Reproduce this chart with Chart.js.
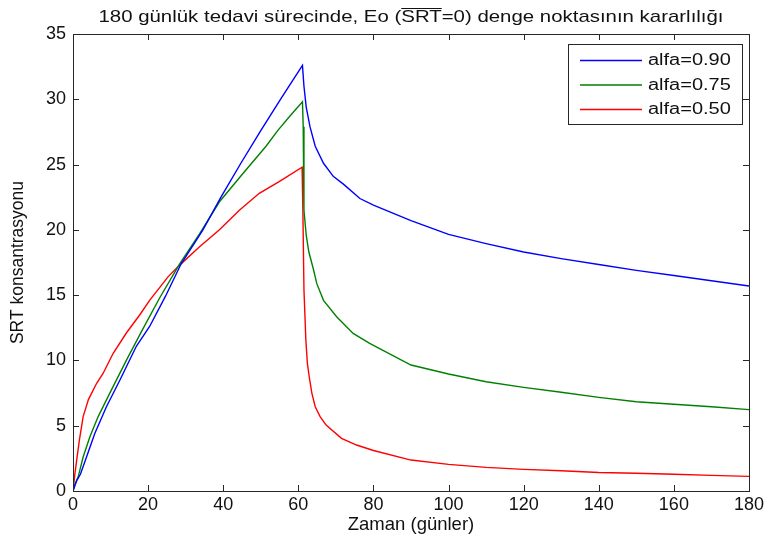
<!DOCTYPE html>
<html>
<head>
<meta charset="utf-8">
<script src="https://cdn.jsdelivr.net/npm/chart.js@4/dist/chart.umd.min.js"></script>
<style>
  html, body { margin: 0; padding: 0; background: #fff; }
  #wrap { width: 767px; height: 542px; }
</style>
</head>
<body>
<div id="wrap"><canvas id="c"></canvas></div>
<script>
// title pieces: the middle part "SRT" carries an overline
const titleParts = ['180 günlük tedavi sürecinde, Eo (', 'SRT', '=0) denge noktasının kararlılığı'];
const xTitle = 'Zaman (günler)';
const yTitle = 'SRT konsantrasyonu';
const labels = ['alfa=0.90', 'alfa=0.75', 'alfa=0.50'];

// alfa = 0.90
const daysA90 = [0, 0.5, 1, 2, 3.6, 5.8, 8.9, 12.5, 16.9, 20.4, 24.6, 28.8, 34.6, 39.4, 44.7, 50, 55.5, 61.1,
  61.5, 62.1, 63.1, 64.5, 66.7, 69.3, 72, 76.4, 80, 90, 100, 110, 120, 130, 140, 150, 160, 170, 180];
const valsA90 = [0, 0.4, 0.8, 1.3, 2.6, 4.4, 6.45, 8.5, 11.1, 12.6, 14.9, 17.4, 20.0, 22.5, 25.1, 27.6, 30.1, 32.6,
  31.0, 29.4, 27.9, 26.4, 25.1, 24.1, 23.5, 22.4, 21.9, 20.7, 19.65, 18.95, 18.3, 17.8, 17.35, 16.9, 16.5, 16.1, 15.7];

// alfa = 0.75
const daysA75 = [0, 0.5, 1.4, 2.7, 4.5, 6.7, 9.8, 14.2, 18.4, 23.1, 28.4, 33.7, 39, 45.2, 51.4, 54.5, 58, 61.1,
  61.3, 61.5, 62.1, 62.8, 64, 64.9, 66.7, 70.2, 74.6, 79, 90, 100, 110, 120, 130, 140, 150, 160, 170, 180];
const valsA75 = [0, 0.5, 1.1, 2.6, 4.15, 5.7, 7.5, 10.0, 12.3, 14.8, 17.4, 19.7, 22.15, 24.3, 26.4, 27.6, 28.8, 29.8,
  27.9, 21.5, 19.6, 18.3, 17.0, 15.9, 14.6, 13.35, 12.07, 11.3, 9.65, 8.96, 8.37, 7.94, 7.56, 7.17, 6.84, 6.64, 6.45, 6.23];

// alfa = 0.50
const daysA50 = [0, 0.5, 1, 1.7, 2.7, 4.1, 6.3, 8, 10.7, 14.2, 17.8, 20.4, 25.3, 28.4, 33.7, 39, 44.3, 49.6, 54.9, 61.0,
  61.2, 61.5, 62.0, 62.4, 62.9, 63.6, 64.5, 65.8, 67.4, 71.5, 75.5, 80, 90, 100, 110, 120, 130, 140, 150, 160, 170, 180];
const valsA50 = [0, 1.3, 2.4, 3.9, 5.7, 7.0, 8.25, 9.0, 10.55, 12.1, 13.5, 14.6, 16.4, 17.3, 18.7, 20.0, 21.5, 22.8, 23.7, 24.8,
  21.7, 15.4, 11.6, 9.8, 8.75, 7.5, 6.45, 5.7, 5.05, 4.03, 3.52, 3.1, 2.37, 2.04, 1.81, 1.66, 1.55, 1.42, 1.36, 1.28, 1.2, 1.12];

const colors = ['#0000ff', '#008000', '#ff0000'];
const FONT = '"Liberation Sans", Arial, Helvetica, sans-serif';
const TXT = '#111';

const pts = (xs, ys) => xs.map((x, i) => ({ x: x, y: ys[i] }));

// box, inward ticks on all four sides, MATLAB style
const framePlugin = {
  id: 'frame',
  afterDraw(chart) {
    const { ctx, chartArea: a, scales } = chart;
    const tl = 6;
    ctx.save();
    ctx.strokeStyle = '#262626';
    ctx.lineWidth = 1;
    ctx.beginPath();
    scales.x.ticks.forEach(t => {
      const px = Math.round(scales.x.getPixelForValue(t.value)) + 0.5;
      ctx.moveTo(px, a.bottom); ctx.lineTo(px, a.bottom - tl);
      ctx.moveTo(px, a.top); ctx.lineTo(px, a.top + tl);
    });
    scales.y.ticks.forEach(t => {
      const py = Math.round(scales.y.getPixelForValue(t.value)) + 0.5;
      ctx.moveTo(a.left, py); ctx.lineTo(a.left + tl, py);
      ctx.moveTo(a.right, py); ctx.lineTo(a.right - tl, py);
    });
    ctx.stroke();
    ctx.strokeRect(Math.round(a.left) + 0.5, Math.round(a.top) + 0.5,
      Math.round(a.right - a.left), Math.round(a.bottom - a.top));
    ctx.restore();
  }
};

// title with overline above SRT (text is a bit wide in the picture, so stretch it)
const titlePlugin = {
  id: 'olTitle',
  afterDraw(chart) {
    const { ctx, chartArea: a } = chart;
    const sx = 1.2;
    ctx.save();
    ctx.font = '17px ' + FONT;
    ctx.fillStyle = TXT;
    const w = titleParts.map(s => ctx.measureText(s).width);
    const total = (w[0] + w[1] + w[2]) * sx;
    ctx.translate((a.left + a.right) / 2 - total / 2, 22);
    ctx.scale(sx, 1);
    ctx.fillText(titleParts[0], 0, 0);
    ctx.fillText(titleParts[1], w[0], 0);
    ctx.fillText(titleParts[2], w[0] + w[1], 0);
    ctx.strokeStyle = TXT;
    ctx.lineWidth = 1;
    ctx.beginPath();
    ctx.moveTo(w[0], -13.5); ctx.lineTo(w[0] + w[1], -13.5);
    ctx.stroke();
    ctx.restore();
  }
};

// legend box in the upper right
const legendPlugin = {
  id: 'boxLegend',
  afterDraw(chart) {
    const { ctx } = chart;
    const bx = 568, by = 44, bw = 174, bh = 80;
    ctx.save();
    ctx.fillStyle = '#fff';
    ctx.fillRect(bx, by, bw, bh);
    ctx.strokeStyle = '#262626';
    ctx.lineWidth = 1;
    ctx.strokeRect(bx + 0.5, by + 0.5, bw, bh);
    ctx.font = '16px ' + FONT;
    ctx.textBaseline = 'middle';
    chart.data.datasets.forEach((ds, i) => {
      const ry = by + 16 + i * 24.5;
      ctx.strokeStyle = ds.borderColor;
      ctx.lineWidth = 1.4;
      ctx.beginPath();
      ctx.moveTo(580, ry + 0.5); ctx.lineTo(642, ry + 0.5);
      ctx.stroke();
      ctx.save();
      ctx.translate(648, ry + 1);
      ctx.scale(1.25, 1);
      ctx.fillStyle = TXT;
      ctx.fillText(ds.label, 0, 0);
      ctx.restore();
    });
    ctx.restore();
  }
};

new Chart(document.getElementById('c'), {
  type: 'scatter',
  data: {
    datasets: [
      { label: labels[0], data: pts(daysA90, valsA90), borderColor: colors[0] },
      { label: labels[1], data: pts(daysA75, valsA75), borderColor: colors[1] },
      { label: labels[2], data: pts(daysA50, valsA50), borderColor: colors[2] }
    ].map(d => Object.assign(d, { showLine: true, pointRadius: 0, borderWidth: 1.4, tension: 0, fill: false }))
  },
  options: {
    responsive: true, maintainAspectRatio: false, animation: false,
    layout: { padding: { left: 0, right: 15, top: 34, bottom: 0 } },
    plugins: { legend: { display: false }, tooltip: { enabled: false } },
    scales: {
      x: {
        type: 'linear', min: 0, max: 180,
        ticks: { stepSize: 20, color: TXT, font: { family: FONT, size: 18 }, padding: 3, maxRotation: 0 },
        grid: { display: false, drawTicks: false }, border: { display: false },
        title: { display: true, text: xTitle, color: TXT, font: { family: FONT, size: 18.5 }, padding: { top: 0, bottom: 6 } },
        afterFit: s => { s.height = 51; }
      },
      y: {
        type: 'linear', min: 0, max: 35,
        ticks: { stepSize: 5, color: TXT, font: { family: FONT, size: 18 }, padding: 7 },
        grid: { display: false, drawTicks: false }, border: { display: false },
        title: { display: true, text: yTitle, color: TXT, font: { family: FONT, size: 17.5 }, padding: { top: 8, bottom: 0 } },
        afterFit: s => { s.width = 73; }
      }
    }
  },
  plugins: [framePlugin, titlePlugin, legendPlugin]
});
</script>
</body>
</html>
